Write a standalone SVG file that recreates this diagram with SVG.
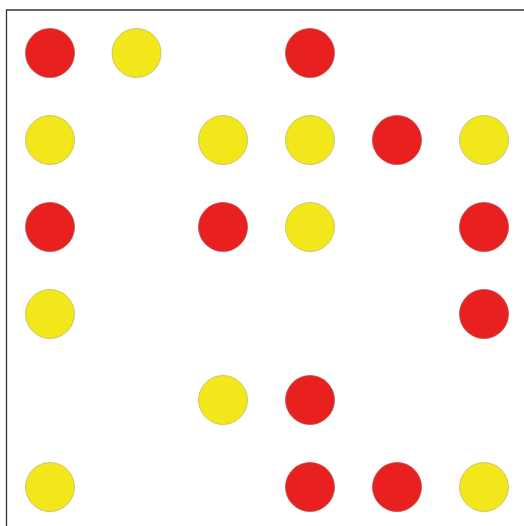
<svg xmlns="http://www.w3.org/2000/svg" width="524" height="526" viewBox="0 0 524 526">
<style>
.r{fill:#e8201f;stroke:#b8504a;stroke-width:0.8}
.y{fill:#f2e71b;stroke:#c8b870;stroke-width:0.8}
.frame{stroke:#333;stroke-width:1.3;fill:none}
</style>
<rect width="524" height="526" fill="#fff"/>
<path class="frame" d="M6.5 526 V10 H524"/>
<g id="dots">
<circle class="r" cx="50" cy="53" r="24.5"/>
<circle class="y" cx="136.5" cy="53" r="24.5"/>
<circle class="r" cx="310" cy="53" r="24.5"/>

<circle class="y" cx="50" cy="140" r="24.5"/>
<circle class="y" cx="223" cy="140" r="24.5"/>
<circle class="y" cx="310" cy="140" r="24.5"/>
<circle class="r" cx="397" cy="140" r="24.5"/>
<circle class="y" cx="484" cy="140" r="24.5"/>

<circle class="r" cx="50" cy="227" r="24.5"/>
<circle class="r" cx="223" cy="227" r="24.5"/>
<circle class="y" cx="310" cy="227" r="24.5"/>
<circle class="r" cx="484" cy="227" r="24.5"/>

<circle class="y" cx="50" cy="314" r="24.5"/>
<circle class="r" cx="484" cy="314" r="24.5"/>

<circle class="y" cx="223" cy="400" r="24.5"/>
<circle class="r" cx="310" cy="400" r="24.5"/>

<circle class="y" cx="50" cy="487" r="24.5"/>
<circle class="r" cx="310" cy="487" r="24.5"/>
<circle class="r" cx="397" cy="487" r="24.5"/>
<circle class="y" cx="484" cy="487" r="24.5"/>
</g>
</svg>
